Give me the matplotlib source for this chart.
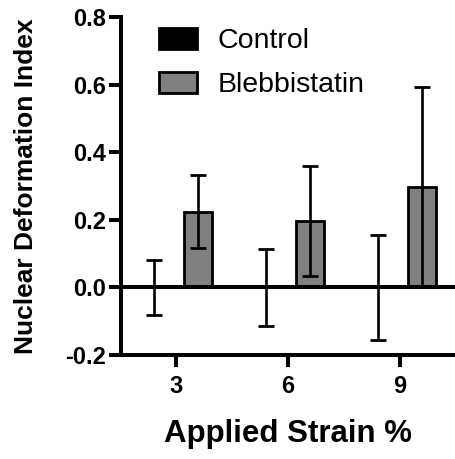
import matplotlib

matplotlib.use("Agg")
import matplotlib.pyplot as plt
import numpy as np

plt.rcParams["font.family"] = ["Liberation Sans", "DejaVu Sans"]

strain = ["3", "6", "9"]
control_mean = [0.0, 0.0, 0.0]
control_err = [0.081, 0.115, 0.155]
blebb_mean = [0.224, 0.197, 0.297]
blebb_err = [0.108, 0.163, 0.296]

fig = plt.figure(figsize=(4.56, 4.59), dpi=100)
ax = fig.add_axes([0.265, 0.2266, 0.735, 0.7354])

x = np.arange(len(strain))
w = 0.25
off = 0.195

ax.bar(x - off, control_mean, w, color="black", edgecolor="black", linewidth=2, label="Control", zorder=2)
ax.bar(x + off, blebb_mean, w, color="#808080", edgecolor="black", linewidth=2, label="Blebbistatin", zorder=2)
ax.errorbar(x - off, control_mean, yerr=control_err, fmt="none", ecolor="black",
            elinewidth=1.9, capsize=6, capthick=2, zorder=3)
ax.errorbar(x + off, blebb_mean, yerr=blebb_err, fmt="none", ecolor="black",
            elinewidth=1.9, capsize=6, capthick=2, zorder=3)

ax.axhline(0, color="black", linewidth=2.9, zorder=4)

ax.set_xlim(-0.49, 2.5)
ax.set_ylim(-0.2, 0.8)
ax.set_xticks(x)
ax.set_xticklabels(strain)
ax.set_yticks([-0.2, 0.0, 0.2, 0.4, 0.6, 0.8])
ax.set_yticklabels(["-0.2", "0.0", "0.2", "0.4", "0.6", "0.8"])

for s in ("top", "right"):
    ax.spines[s].set_visible(False)
for s in ("left", "bottom"):
    ax.spines[s].set_linewidth(2.9)
ax.tick_params(width=2.9, length=8.5, labelsize=17)
ax.tick_params(axis="y", pad=2)
ax.tick_params(axis="x", pad=6)
for lab in ax.get_xticklabels() + ax.get_yticklabels():
    lab.set_fontweight("bold")

ax.set_ylabel("Nuclear Deformation Index", fontsize=19, fontweight="bold", labelpad=20)
ax.set_xlabel("Applied Strain %", fontsize=22.5, fontweight="bold", labelpad=15)

ax.legend(loc="upper left", bbox_to_anchor=(159 / 456, 1 - 28 / 459), bbox_transform=fig.transFigure,
          frameon=False, fontsize=20.5, handlelength=1.35, handleheight=0.75, handletextpad=0.7,
          labelspacing=0.62, borderpad=0, borderaxespad=0)

fig.savefig("out.png", dpi=100)
